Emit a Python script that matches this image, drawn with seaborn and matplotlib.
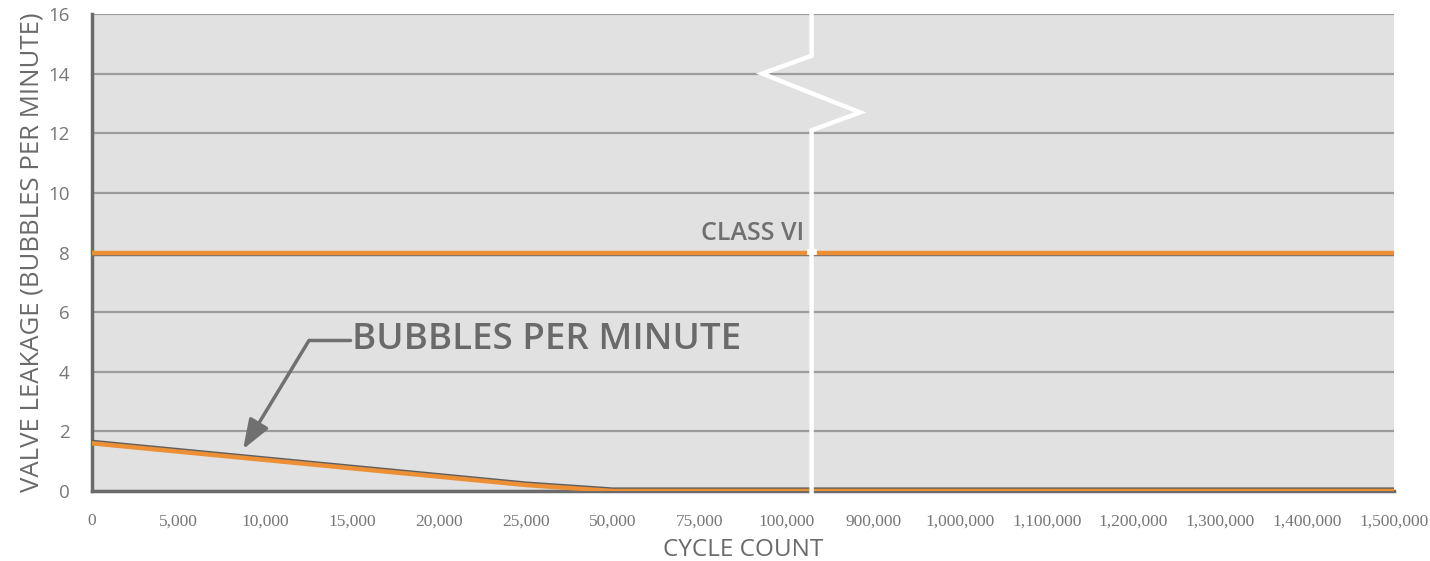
import numpy as np
import pandas as pd
import seaborn as sns
from matplotlib import pyplot as plt
import matplotlib.patheffects as pe

# x axis is broken: ticks are evenly spaced categories
cycle_labels = ['0', '5,000', '10,000', '15,000', '20,000', '25,000', '50,000',
                '75,000', '100,000', '900,000', '1,000,000', '1,100,000',
                '1,200,000', '1,300,000', '1,400,000', '1,500,000']
bubbles = [1.6, 1.32, 1.04, 0.76, 0.48, 0.2, 0.0, 0.0, 0.0,
           0.0, 0.0, 0.0, 0.0, 0.0, 0.0, 0.0]
class_vi = 8
y_ticks = [0, 2, 4, 6, 8, 10, 12, 14, 16]

grey = '#6b6b6b'
orange = '#ec8f35'

sns.set_style('white', {'axes.facecolor': '#e1e1e1'})
plt.rcParams['font.family'] = ['Open Sans', 'DejaVu Sans']

df = pd.DataFrame({'pos': np.arange(len(cycle_labels)), 'bubbles': bubbles})

fig = plt.figure(figsize=(14.3, 5.61), dpi=100)
ax = fig.add_axes([92 / 1430, 1 - 491 / 561, (1394 - 92) / 1430, (491 - 14) / 561])

for y in y_ticks:
    ax.axhline(y, color='#9c9c9c', lw=1.6, zorder=1)

ax.axhline(class_vi, color=orange, lw=3.2, zorder=3,
           path_effects=[pe.SimpleLineShadow(offset=(0, -1.3), shadow_color='#707070', alpha=1),
                         pe.Normal()])

sns.lineplot(data=df, x='pos', y='bubbles', ax=ax, color=orange, lw=3.2, zorder=4,
             path_effects=[pe.SimpleLineShadow(offset=(0, 1.0), shadow_color='#5f5f5f', alpha=1),
                           pe.Normal()])

# axis break marker
bx = [8.29, 8.29, 7.72, 8.85, 8.29, 8.29]
by = [16.2, 14.6, 14.0, 12.7, 12.1, -0.1]
ax.plot(bx, by, color='white', lw=3.2, zorder=6, clip_on=False, solid_joinstyle='miter')
ax.plot([8.29, 8.29], [class_vi - 0.08, class_vi + 0.12], color='white', lw=7, zorder=6,
        solid_capstyle='butt')

ax.text(8.2, 8.22, 'CLASS VI', ha='right', va='bottom', fontsize=18, fontweight='semibold',
        color='#707070', zorder=5)

ax.annotate('', xy=(1.74, 1.4), xytext=(2.5, 5.05),
            arrowprops=dict(arrowstyle='-|>,head_length=0.6,head_width=0.22', color='#707070',
                            lw=2.5, mutation_scale=30, shrinkA=0, shrinkB=0), zorder=5)
ax.plot([2.5, 2.97], [5.05, 5.05], color='#707070', lw=2.5, zorder=5)
ax.text(2.99, 5.05, 'BUBBLES PER MINUTE', ha='left', va='center', fontsize=26.5,
        fontweight='semibold', color='#6a6a6a', zorder=5)

ax.set_xlim(0, 15)
ax.set_ylim(0, 16)
ax.set_xticks(df['pos'])
ax.set_xticklabels(cycle_labels)
ax.set_yticks(y_ticks)
ax.tick_params(axis='both', direction='out', color=grey, width=2.2, labelcolor='#777777')
ax.tick_params(axis='y', length=11, pad=5, labelsize=13.5)
ax.tick_params(axis='x', length=9, pad=7, labelsize=12.5)
for lab in ax.get_xticklabels():
    lab.set_family(['Liberation Serif', 'DejaVu Serif'])

for side in ['top', 'right']:
    ax.spines[side].set_visible(False)
for side in ['left', 'bottom']:
    ax.spines[side].set_color(grey)
    ax.spines[side].set_linewidth(2.5)

ax.set_xlabel('CYCLE COUNT', fontsize=17.5, color='#6a6a6a', labelpad=6)
ax.set_ylabel('VALVE LEAKAGE (BUBBLES PER MINUTE)', fontsize=18.5, color='#6a6a6a', labelpad=3)

fig.savefig('out.png', dpi=100, facecolor='white')
